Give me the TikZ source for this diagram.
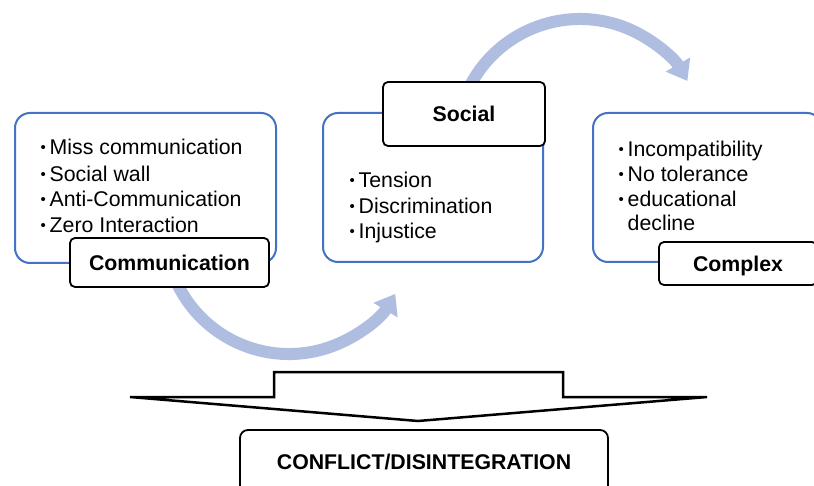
\documentclass[tikz,border=0pt]{standalone}
\usepackage{fontspec}
\setmainfont{Liberation Sans}
\usetikzlibrary{arrows.meta}
\definecolor{boxblue}{HTML}{4472C4}
\definecolor{arcblue}{HTML}{AFBEE0}
\newcommand{\bul}{\makebox[9pt][l]{\fontsize{15}{15}\selectfont\raisebox{2.2pt}{•}}}
\begin{document}
\begin{tikzpicture}[x=1pt,y=-1pt,
  blbox/.style={draw=boxblue, line width=2pt, rounded corners=15pt, fill=white, inner sep=0},
  lab/.style={draw=black, line width=1.8pt, rounded corners=5pt, fill=white, font=\fontsize{21.3}{25}\selectfont\bfseries, inner sep=0, text depth=0pt},
  itm/.style={anchor=base west, inner sep=0, font=\fontsize{21.3}{25}\selectfont},
  arcarrow/.style={arcblue, line width=12pt, -{Triangle[width=27pt,length=19pt]}}
]
\useasboundingbox (0,0) rectangle (814,486);
\clip (0,0) rectangle (814,486);
\fill[white] (0,0) rectangle (814,486);
% curved arrows
\draw[arcarrow] (289,230) ++(160:124) arc[start angle=160, end angle=31, radius=124];
\draw[arcarrow] (580,143) ++(-155:124) arc[start angle=-155, end angle=-30, radius=124];
% blue boxes
\node[blbox, minimum width=261pt, minimum height=150pt] (b1) at (145.5,188) {};
\node[blbox, minimum width=220pt, minimum height=149pt] (b2) at (433,187.5) {};
\node[blbox, minimum width=229pt, minimum height=149pt] (b3) at (707.5,187.5) {};
% items box 1
\node[itm] (i11) at (40.5,155) {\bul Miss communication};
\node[itm] (i12) at (40.5,181.5) {\bul Social wall};
\node[itm] (i13) at (40.5,207) {\bul Anti-Communication};
\node[itm] (i14) at (40.5,233) {\bul Zero Interaction};
% items box 2
\node[itm] (i21) at (349.5,188) {\bul Tension};
\node[itm] (i22) at (349.5,213.3) {\bul Discrimination};
\node[itm] (i23) at (349.5,238.3) {\bul Injustice};
% items box 3
\node[itm] (i31) at (618.5,156.7) {\bul Incompatibility};
\node[itm] (i32) at (618.5,181.7) {\bul No tolerance};
\node[itm] (i33) at (618.5,206.7) {\bul educational};
\node[itm] (i34) at (627.5,230.7) {decline};
% labels
\node[lab, minimum width=199pt, minimum height=49pt] (l1) at (169.5,262.5) {Communication};
\node[lab, minimum width=162pt, minimum height=64pt] (l2) at (464,114) {Social};
\node[lab, minimum width=158pt, minimum height=43pt] (l3) at (738,263.5) {Complex};
% big down arrow
\draw[line width=2.5pt, fill=white, line join=miter]
  (130,397) -- (274,397) -- (274,372) -- (563,372) -- (563,397) -- (707,397) -- (418,421) -- cycle;
% result box
\node[draw=black, line width=1.8pt, rounded corners=8pt, fill=white, minimum width=368pt, minimum height=64pt,
  font=\fontsize{21.3}{25}\selectfont\bfseries, text depth=0pt, inner sep=0] (cf) at (424,462) {CONFLICT/DISINTEGRATION};
\end{tikzpicture}
\end{document}
